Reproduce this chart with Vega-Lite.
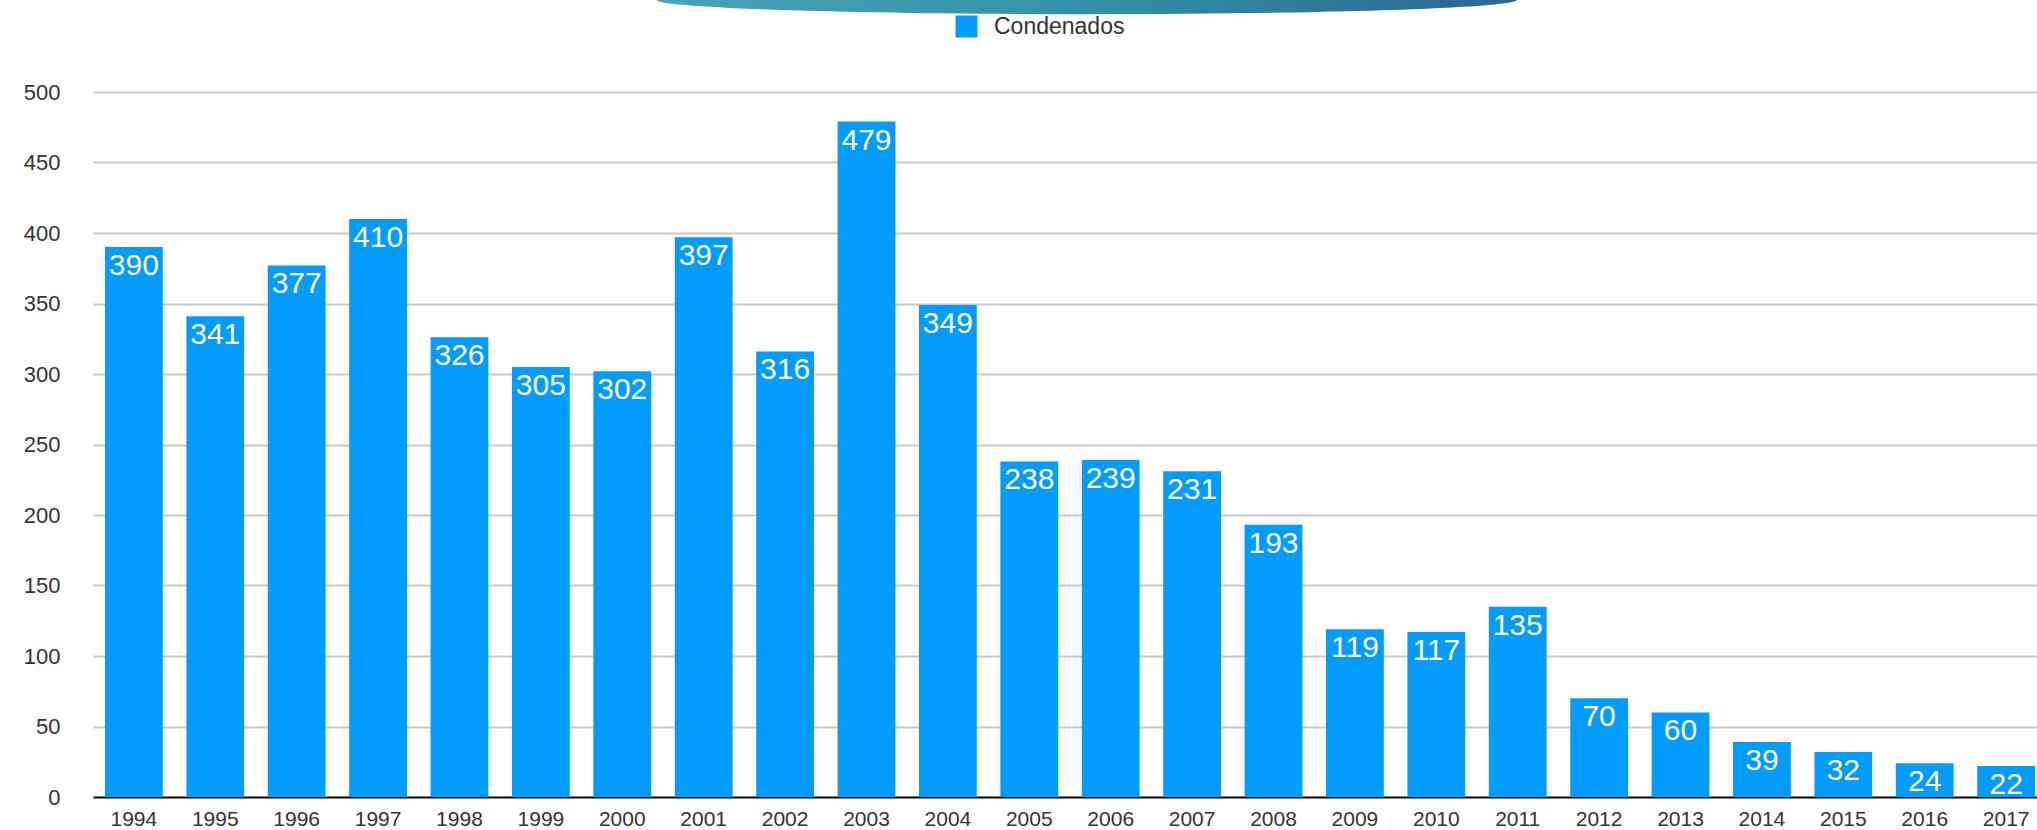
{
  "$schema": "https://vega.github.io/schema/vega-lite/v6.json",
  "autosize": {"type": "none"},
  "padding": {"left": 93, "top": 92, "right": 0, "bottom": 33},
  "width": 1954,
  "height": 705,
  "background": "white",
  "config": {"view": {"stroke": null}, "font": "Liberation Sans"},
  "data": {"values": [
    {"year": "1994", "value": 390, "serie": "Condenados"},
    {"year": "1995", "value": 341, "serie": "Condenados"},
    {"year": "1996", "value": 377, "serie": "Condenados"},
    {"year": "1997", "value": 410, "serie": "Condenados"},
    {"year": "1998", "value": 326, "serie": "Condenados"},
    {"year": "1999", "value": 305, "serie": "Condenados"},
    {"year": "2000", "value": 302, "serie": "Condenados"},
    {"year": "2001", "value": 397, "serie": "Condenados"},
    {"year": "2002", "value": 316, "serie": "Condenados"},
    {"year": "2003", "value": 479, "serie": "Condenados"},
    {"year": "2004", "value": 349, "serie": "Condenados"},
    {"year": "2005", "value": 238, "serie": "Condenados"},
    {"year": "2006", "value": 239, "serie": "Condenados"},
    {"year": "2007", "value": 231, "serie": "Condenados"},
    {"year": "2008", "value": 193, "serie": "Condenados"},
    {"year": "2009", "value": 119, "serie": "Condenados"},
    {"year": "2010", "value": 117, "serie": "Condenados"},
    {"year": "2011", "value": 135, "serie": "Condenados"},
    {"year": "2012", "value": 70, "serie": "Condenados"},
    {"year": "2013", "value": 60, "serie": "Condenados"},
    {"year": "2014", "value": 39, "serie": "Condenados"},
    {"year": "2015", "value": 32, "serie": "Condenados"},
    {"year": "2016", "value": 24, "serie": "Condenados"},
    {"year": "2017", "value": 22, "serie": "Condenados"}
  ]},
  "encoding": {
    "x": {
      "field": "year", "type": "nominal", "sort": null,
      "scale": {"paddingInner": 0.29, "paddingOuter": 0.147},
      "axis": {"title": null, "labelAngle": 0, "labelFontSize": 21, "labelColor": "#333333", "labelPadding": 11, "ticks": false, "domain": true, "domainColor": "#111111", "domainWidth": 2, "grid": false}
    }
  },
  "layer": [
    {
      "mark": {"type": "bar"},
      "encoding": {
        "y": {
          "field": "value", "type": "quantitative",
          "scale": {"domain": [0, 500]},
          "axis": {"title": null, "values": [0, 50, 100, 150, 200, 250, 300, 350, 400, 450, 500], "labelFontSize": 22, "labelColor": "#333333", "labelPadding": 33, "ticks": false, "domain": false, "grid": true, "gridColor": "#c8c8c8", "gridWidth": 2}
        },
        "color": {
          "field": "serie", "type": "nominal",
          "scale": {"range": ["#039BFC"]},
          "legend": {"title": null, "orient": "none", "legendX": 862, "legendY": -77, "symbolType": "square", "symbolSize": 484, "symbolStrokeWidth": 0, "labelFontSize": 23, "labelColor": "#333333", "labelOffset": 16}
        }
      }
    },
    {
      "mark": {"type": "text", "color": "white", "baseline": "top", "dy": 4, "fontSize": 30, "font": "Liberation Sans"},
      "encoding": {
        "y": {"field": "value", "type": "quantitative"},
        "text": {"field": "value", "type": "quantitative"}
      }
    },
    {
      "transform": [{"filter": {"field": "year", "equal": "2005"}}],
      "mark": {
        "type": "point",
        "filled": true,
        "opacity": 1,
        "strokeWidth": 0,
        "size": 739600,
        "shape": "M -0.866 0 A 1 0.033 0 0 0 1.134 0 L 1.134 -0.2 L -0.866 -0.2 Z",
        "color": {
          "gradient": "linear", "x1": 0, "x2": 1, "y1": 0, "y2": 0,
          "stops": [
            {"offset": 0, "color": "#4aa3b8"},
            {"offset": 0.5, "color": "#3490a8"},
            {"offset": 1, "color": "#2a6690"}
          ]
        }
      },
      "encoding": {
        "y": {"datum": 565.25, "type": "quantitative"}
      }
    }
  ]
}
